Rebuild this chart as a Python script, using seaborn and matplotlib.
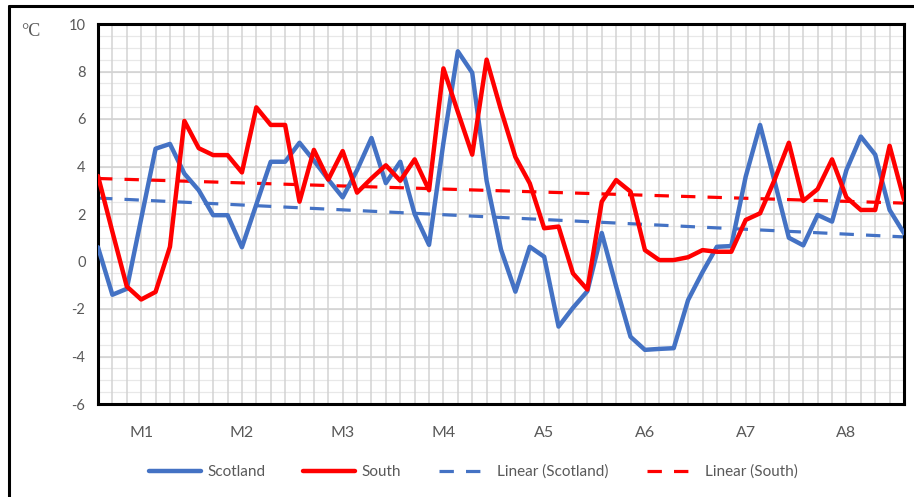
import numpy as np
import pandas as pd
import matplotlib
matplotlib.use("Agg")
import matplotlib.pyplot as plt
from matplotlib.lines import Line2D
import seaborn as sns

# Temperature anomaly series (°C), one value per period
scotland = [0.6, -1.4, -1.15, 1.8, 4.75, 4.95, 3.7, 3.0, 1.95, 1.95,
            0.6, 2.4, 4.2, 4.2, 5.0, 4.25, 3.45, 2.7, 3.85, 5.2,
            3.3, 4.2, 2.0, 0.7, 5.0, 8.85, 7.95, 3.4, 0.5, -1.27,
            0.62, 0.2, -2.74, -1.95, -1.25, 1.2, -1.05, -3.17, -3.72, -3.68,
            -3.65, -1.62, -0.45, 0.62, 0.65, 3.57, 5.75, 3.4, 1.0, 0.68,
            1.96, 1.68, 3.85, 5.26, 4.5, 2.17, 1.19]
south = [3.6, 1.25, -1.05, -1.6, -1.28, 0.62, 5.92, 4.77, 4.48, 4.48,
         3.75, 6.49, 5.75, 5.75, 2.52, 4.7, 3.45, 4.65, 2.9, 3.5,
         4.05, 3.4, 4.3, 3.0, 8.13, 6.3, 4.5, 8.5, 6.38, 4.4,
         3.29, 1.4, 1.47, -0.5, -1.18, 2.52, 3.43, 2.94, 0.48, 0.06,
         0.06, 0.18, 0.48, 0.41, 0.41, 1.75, 2.03, 3.43, 5.0, 2.55,
         3.05, 4.3, 2.7, 2.17, 2.17, 4.87, 2.6]
period_labels = ["M1", "M2", "M3", "M4", "A5", "A6", "A7", "A8"]
series_names = ["Scotland", "South"]
y_ticks = [-6, -4, -2, 0, 2, 4, 6, 8, 10]

BLUE = "#4472C4"
RED = "#FF0000"
GREY_TEXT = "#595959"
DASH = (0, (4.5, 3.8))

idx = np.arange(len(scotland))
df = pd.DataFrame({
    "idx": np.concatenate([idx, idx]),
    "temp": scotland + south,
    "region": [series_names[0]] * len(scotland) + [series_names[1]] * len(south),
})

# Least-squares linear trend for each region
trend_rows = []
for name, vals in zip(series_names, [scotland, south]):
    slope, intercept = np.polyfit(idx, vals, 1)
    for i in idx:
        trend_rows.append({"idx": i, "temp": slope * i + intercept,
                           "region": f"Linear ({name})"})
trend = pd.DataFrame(trend_rows)

sns.set_theme(style="white")
plt.rcParams["font.family"] = ["Lato", "DejaVu Sans"]

fig = plt.figure(figsize=(9.14, 4.97), dpi=100)
ax = fig.add_axes([98 / 914, 1 - 404 / 497, 806 / 914, 380 / 497])

# Grid: horizontal minor/major and a vertical line at each period
for y in np.arange(-6, 10.01, 0.5):
    ax.axhline(y, color="#e8e8e8", lw=0.9, zorder=0)
for y in y_ticks:
    ax.axhline(y, color="#d0d0d0", lw=1.1, zorder=0)
for x in idx:
    ax.axvline(x, color="#d3d3d3", lw=1.1, zorder=0)

sns.lineplot(data=trend, x="idx", y="temp", hue="region",
             palette={"Linear (Scotland)": BLUE, "Linear (South)": RED},
             lw=2.3, legend=False, ax=ax, zorder=2)
for line in ax.lines[-2:]:
    line.set_linestyle(DASH)

sns.lineplot(data=df, x="idx", y="temp", hue="region",
             palette={"Scotland": BLUE, "South": RED},
             lw=3.2, legend=False, ax=ax, zorder=3)

ax.set_xlim(0, len(scotland) - 1)
ax.set_ylim(-6, 10)
ax.set_yticks(y_ticks)
ax.set_yticklabels([str(t) for t in y_ticks], color=GREY_TEXT, fontsize=10.5)
ax.set_xticks(np.arange(3, len(scotland), 7)[:len(period_labels)])
ax.set_xticklabels(period_labels, color=GREY_TEXT, fontsize=11.5)
ax.tick_params(axis="y", length=0, pad=9)
ax.tick_params(axis="x", length=0, pad=16)
ax.set_xlabel("")
ax.set_ylabel("")
for s in ax.spines.values():
    s.set_color("black")
    s.set_linewidth(2.2)

fig.text(21 / 914, 1 - 31 / 497, "°C", color=GREY_TEXT, fontsize=13,
         family="Liberation Serif", va="center", ha="left")

handles = [
    Line2D([], [], color=BLUE, lw=3.2),
    Line2D([], [], color=RED, lw=3.2),
    Line2D([], [], color=BLUE, lw=2.3, linestyle=DASH),
    Line2D([], [], color=RED, lw=2.3, linestyle=DASH),
]
labels = ["Scotland", "South", "Linear (Scotland)", "Linear (South)"]
fig.legend(handles, labels, loc="center", bbox_to_anchor=(0.518, 1 - 472 / 497),
           ncol=4, frameon=False, fontsize=11, handlelength=3.4,
           handletextpad=0.4, columnspacing=2.5, labelcolor=GREY_TEXT)

# Outer frame of the figure panel
fig.add_artist(Line2D([9 / 914, 9 / 914], [0, 1 - 6 / 497], color="black",
                      lw=2.2, transform=fig.transFigure))
fig.add_artist(Line2D([9 / 914, 1], [1 - 6 / 497, 1 - 6 / 497], color="black",
                      lw=2.2, transform=fig.transFigure))

fig.savefig("out.png", dpi=100)
